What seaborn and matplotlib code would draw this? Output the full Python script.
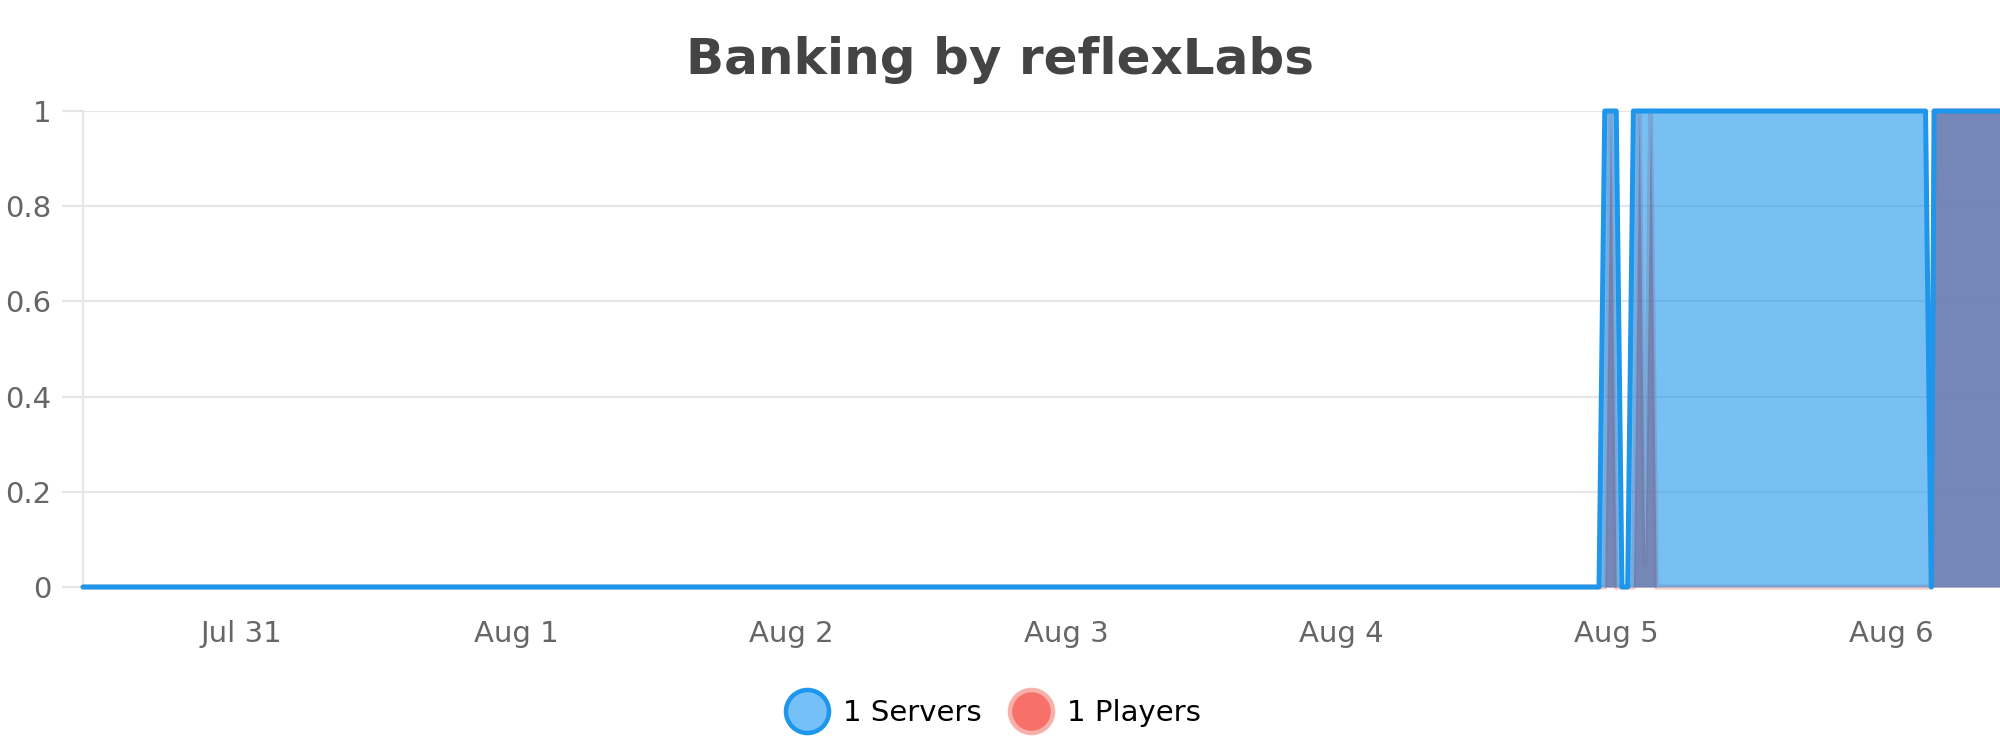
import matplotlib
matplotlib.use("Agg")
import matplotlib.pyplot as plt
import matplotlib.dates as mdates
from matplotlib.ticker import FuncFormatter, FixedLocator
from matplotlib.lines import Line2D
import seaborn as sns
import pandas as pd

# ---- data ----
servers_times = ["2025-07-30 10:10", "2025-08-04 22:30", "2025-08-04 23:00",
                 "2025-08-05 00:00", "2025-08-05 00:30", "2025-08-05 01:00",
                 "2025-08-05 01:30", "2025-08-06 03:00", "2025-08-06 03:30",
                 "2025-08-06 03:45", "2025-08-06 09:30"]
servers_values = [0, 0, 1, 1, 0, 0, 1, 1, 0, 1, 1]

players_times = ["2025-07-30 10:10", "2025-08-04 23:00", "2025-08-04 23:30",
                 "2025-08-05 00:00", "2025-08-05 01:30", "2025-08-05 02:00",
                 "2025-08-05 02:30", "2025-08-05 03:00", "2025-08-05 03:30",
                 "2025-08-06 03:30", "2025-08-06 03:45", "2025-08-06 09:30"]
players_values = [0, 0, 1, 0, 0, 1, 0.05, 1, 0, 0, 1, 1]

series_names = ["1 Servers", "1 Players"]
y_ticks = [0, 0.2, 0.4, 0.6, 0.8, 1]
x_tick_dates = ["2025-07-31", "2025-08-01", "2025-08-02", "2025-08-03",
                "2025-08-04", "2025-08-05", "2025-08-06"]
title = "Banking by reflexLabs"

# ---- styling ----
SERVER_COLOR = "#1e96eb"
PLAYER_COLOR = "#f44336"
GRID = "#e6e6e6"
TICK_TXT = "#666666"

sns.set_theme(style="white")
plt.rcParams["font.family"] = ["DejaVu Sans"]

srv = pd.DataFrame({"time": pd.to_datetime(servers_times), "value": servers_values})
ply = pd.DataFrame({"time": pd.to_datetime(players_times), "value": players_values})

fig = plt.figure(figsize=(20, 7.5), dpi=100)
ax = fig.add_axes([83 / 2000, 1 - 587 / 750, 1 - 83 / 2000, (587 - 111) / 750])

# players area
ax.fill_between(ply["time"], 0, ply["value"], color=PLAYER_COLOR, alpha=0.75,
                linewidth=0, zorder=2)
sns.lineplot(data=ply, x="time", y="value", ax=ax, color=PLAYER_COLOR, alpha=0.3,
             linewidth=3.6, zorder=3, clip_on=False, estimator=None, legend=False)
# servers area
ax.fill_between(srv["time"], 0, srv["value"], color=SERVER_COLOR, alpha=0.6,
                linewidth=0, zorder=4)
sns.lineplot(data=srv, x="time", y="value", ax=ax, color=SERVER_COLOR,
             linewidth=3.6, zorder=5, clip_on=False, estimator=None, legend=False)

ax.set_xlim(srv["time"].iloc[0], srv["time"].iloc[-1])
ax.set_ylim(0, 1)

ax.yaxis.set_major_locator(FixedLocator(y_ticks))
ax.yaxis.set_major_formatter(FuncFormatter(lambda v, p: f"{v:g}"))
ax.xaxis.set_major_locator(FixedLocator(mdates.date2num(pd.to_datetime(x_tick_dates))))
ax.xaxis.set_major_formatter(FuncFormatter(
    lambda v, p: mdates.num2date(v).strftime("%b ") + str(mdates.num2date(v).day)))

ax.grid(axis="y", color=GRID, linewidth=1.5, zorder=0)
ax.grid(axis="x", visible=False)
ax.set_axisbelow(True)
for s in ["top", "right", "bottom"]:
    ax.spines[s].set_visible(False)
ax.spines["left"].set_color(GRID)
ax.spines["left"].set_linewidth(1.5)

ax.tick_params(axis="y", length=15, width=1.5, color=GRID, pad=8,
               labelsize=21, labelcolor=TICK_TXT, left=True)
ax.tick_params(axis="x", length=0, pad=24, labelsize=21, labelcolor=TICK_TXT)
ax.set_xlabel("")
ax.set_ylabel("")

fig.text(0.5, 1 - 60 / 750, title, ha="center", va="center", fontsize=36,
         fontweight="bold", color="#444444")

handles = [
    Line2D([], [], linestyle="none", marker="o", markersize=31,
           markerfacecolor="#74c0f7", markeredgecolor=SERVER_COLOR, markeredgewidth=3.2),
    Line2D([], [], linestyle="none", marker="o", markersize=31,
           markerfacecolor="#f7716a", markeredgecolor="#f9b0ab", markeredgewidth=3.2),
]
fig.legend(handles, series_names, loc="center", bbox_to_anchor=(0.4965, 1 - 713 / 750),
           ncol=2, frameon=False, fontsize=21, handlelength=1.5, handletextpad=0.5,
           columnspacing=0.92, labelcolor="black")

fig.savefig("out.png", dpi=100, facecolor="white")
